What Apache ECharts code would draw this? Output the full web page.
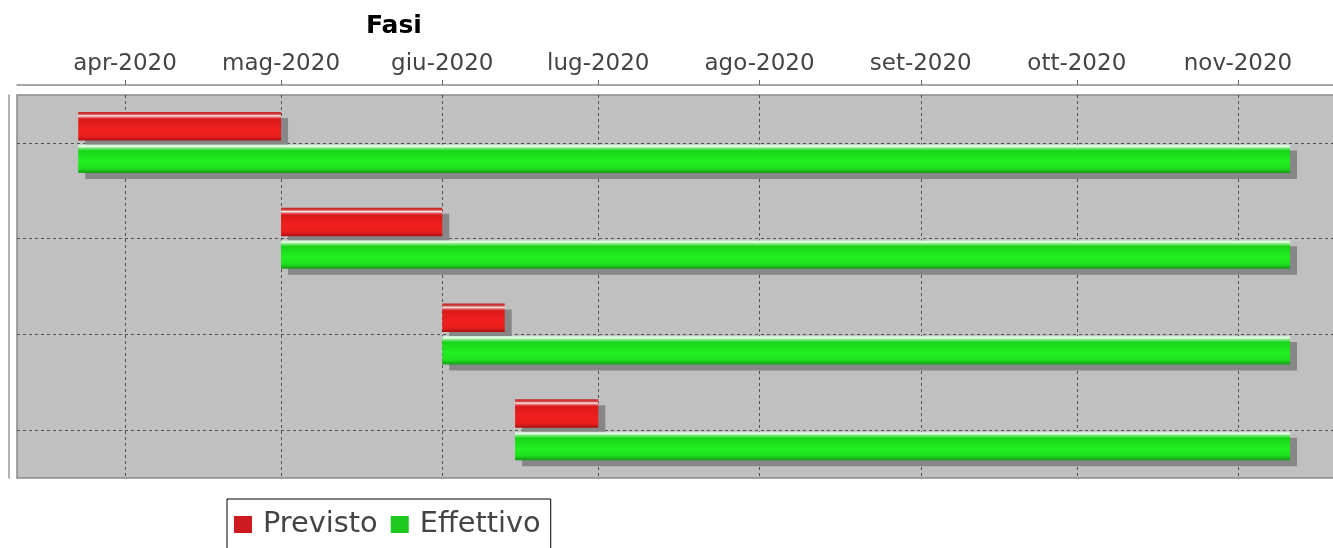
<!DOCTYPE html>
<html>
<head>
<meta charset="utf-8">
<script src="https://cdn.jsdelivr.net/npm/echarts@6/dist/echarts.min.js"></script>
<style>
  html, body { margin: 0; padding: 0; background: #ffffff; overflow: hidden; width: 1333px; height: 548px; }
  #chart { width: 1345px; height: 548px; }
</style>
</head>
<body>
<div id="chart"></div>
<script>
// ---- data ----
const categories = ['1', '2', '3', '4'];
const previstoStart = ['2020-03-23', '2020-05-01', '2020-06-01', '2020-06-15'];
const previstoEnd = ['2020-05-01', '2020-06-01', '2020-06-13', '2020-07-01'];
const effettivoStart = ['2020-03-23', '2020-05-01', '2020-06-01', '2020-06-15'];
const effettivoEnd = ['2020-11-11', '2020-11-11', '2020-11-11', '2020-11-11'];
const monthNames = ['gen', 'feb', 'mar', 'apr', 'mag', 'giu', 'lug', 'ago', 'set', 'ott', 'nov', 'dic'];
const seriesNames = ['Previsto', 'Effettivo'];
const axisMin = '2020-03-11 05:30';
const axisMax = '2020-11-20 10:00';

const chart = echarts.init(document.getElementById('chart'));

const redGrad = new echarts.graphic.LinearGradient(0, 0, 0, 1, [
  { offset: 0, color: '#c02222' },
  { offset: 0.08, color: '#d44848' },
  { offset: 0.13, color: '#fff0f0' },
  { offset: 0.19, color: '#e46060' },
  { offset: 0.25, color: '#d81a1a' },
  { offset: 0.6, color: '#f21f1f' },
  { offset: 0.86, color: '#e81d1d' },
  { offset: 1, color: '#a31212' }
]);
const greenGrad = new echarts.graphic.LinearGradient(0, 0, 0, 1, [
  { offset: 0, color: '#b8e8b8' },
  { offset: 0.06, color: '#f2fff2' },
  { offset: 0.13, color: '#7ae87a' },
  { offset: 0.22, color: '#18d418' },
  { offset: 0.6, color: '#22f022' },
  { offset: 0.84, color: '#1ee01e' },
  { offset: 1, color: '#149a14' }
]);

function makeRender(isPrev) {
  return function (params, api) {
    const idx = api.value(0);
    const s = api.coord([api.value(1), idx]);
    const e = api.coord([api.value(2), idx]);
    const band = api.size([0, 1])[1];
    const h = band * 0.298;
    const top = isPrev ? s[1] - band * 0.322 : s[1] + band * 0.017;
    const w = e[0] - s[0];
    return {
      type: 'group',
      children: [
        { type: 'rect', shape: { x: s[0] + 7, y: top + 6, width: w, height: h }, style: { fill: '#878787' } },
        { type: 'rect', shape: { x: s[0], y: top, width: w, height: h }, style: { fill: isPrev ? redGrad : greenGrad } }
      ]
    };
  };
}

const prevData = categories.map((c, i) => [i, previstoStart[i], previstoEnd[i]]);
const effData = categories.map((c, i) => [i, effettivoStart[i], effettivoEnd[i]]);
const dims = [
  { name: 'fase', type: 'number' },
  { name: 'inizio', type: 'time' },
  { name: 'fine', type: 'time' }
];

chart.setOption({
  animation: false,
  textStyle: { fontFamily: 'DejaVu Sans' },
  title: {
    text: 'Fasi',
    left: 361,
    top: 9,
    textStyle: { fontFamily: 'DejaVu Sans', fontWeight: 'bold', fontSize: 25, color: '#000' }
  },
  legend: {
    left: 227,
    top: 499,
    orient: 'horizontal',
    backgroundColor: '#fff',
    borderColor: '#000',
    borderWidth: 1,
    padding: [11, 10, 40, 7],
    itemGap: 13,
    itemWidth: 18,
    itemHeight: 17,
    icon: 'rect',
    data: seriesNames,
    textStyle: { fontFamily: 'DejaVu Sans', fontSize: 28.8, color: '#444', padding: [0, 0, 0, 6] }
  },
  grid: {
    left: 17,
    right: 6,
    top: 95,
    bottom: 70,
    show: true,
    backgroundColor: '#c0c0c0',
    borderColor: '#8a8a8a',
    borderWidth: 1.5
  },
  xAxis: {
    type: 'time',
    position: 'top',
    offset: 10,
    min: axisMin,
    max: axisMax,
    splitNumber: 8,
    minInterval: 28 * 86400000,
    maxInterval: 31 * 86400000,
    axisLine: { show: true, onZero: false, lineStyle: { color: '#8a8a8a', width: 1.5 } },
    axisTick: { show: true, length: 5, lineStyle: { color: '#666' } },
    axisLabel: {
      formatter: function (v) {
        const d = new Date(v);
        return monthNames[d.getMonth()] + '-' + d.getFullYear();
      },
      fontFamily: 'DejaVu Sans',
      fontSize: 23,
      color: '#444',
      margin: 9,
      showMinLabel: false,
      showMaxLabel: false,
      hideOverlap: false
    },
    splitLine: {
      show: true,
      showMinLine: false,
      showMaxLine: false,
      lineStyle: { color: '#505050', width: 1, type: [3, 3] }
    }
  },
  yAxis: {
    type: 'value',
    min: -0.5,
    max: 3.5,
    inverse: true,
    splitNumber: 4,
    minInterval: 1,
    maxInterval: 1,
    offset: 8,
    axisLine: { show: true, onZero: false, lineStyle: { color: '#999', width: 1.5 } },
    axisTick: { show: false },
    axisLabel: { show: false },
    splitLine: {
      show: true,
      showMinLine: false,
      showMaxLine: false,
      lineStyle: { color: '#505050', width: 1, type: [3, 3] }
    }
  },
  series: [
    {
      name: seriesNames[0],
      type: 'custom',
      renderItem: makeRender(true),
      dimensions: dims,
      encode: { x: [1, 2], y: 0 },
      itemStyle: { color: '#cc1a1e' },
      data: prevData
    },
    {
      name: seriesNames[1],
      type: 'custom',
      renderItem: makeRender(false),
      dimensions: dims,
      encode: { x: [1, 2], y: 0 },
      itemStyle: { color: '#1ec81e' },
      data: effData
    }
  ]
});
</script>
</body>
</html>
